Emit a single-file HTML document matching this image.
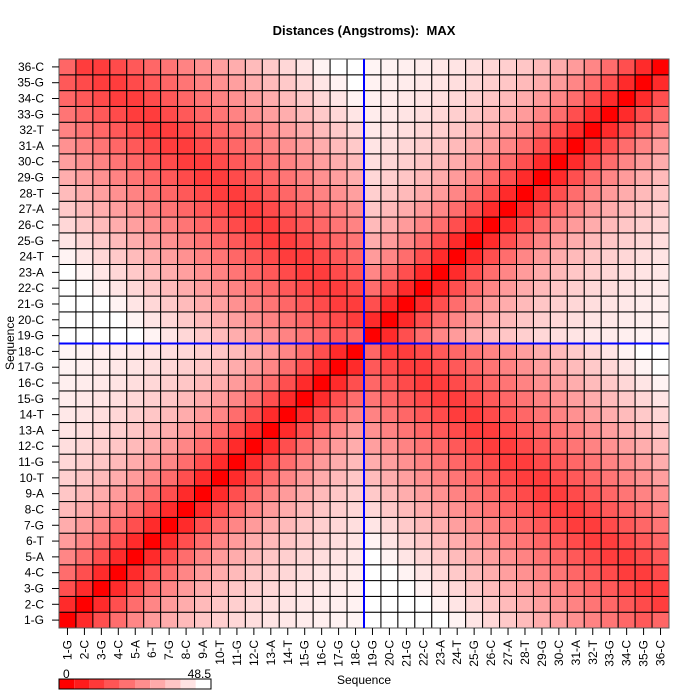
<!DOCTYPE html>
<html><head><meta charset="utf-8"><style>
html,body{margin:0;padding:0;background:#fff;}
svg{display:block;font-family:"Liberation Sans",sans-serif;}
</style></head><body>
<svg id="s" width="700" height="700" xmlns="http://www.w3.org/2000/svg">
<rect width="700" height="700" fill="#fff"/>
<text x="364" y="35" text-anchor="middle" font-size="13" font-weight="bold">Distances (Angstroms):&#160; MAX</text>
<g id="cells"></g>
<g id="lab" font-size="12"></g>
<text x="364" y="684" text-anchor="middle" font-size="12">Sequence</text>
<text transform="translate(14,343) rotate(-90)" text-anchor="middle" font-size="12">Sequence</text>
<g id="leg"></g>
<text x="63" y="678" font-size="12">0</text>
<text x="211" y="678" text-anchor="end" font-size="12">48.5</text>
</svg>
<script>
var seq="GCGCATGCATGCATGCGCGCGCATGCATGCATGCGC";
var names=[];for(var i=0;i<36;i++)names.push((i+1)+"-"+seq[i]);
var L=59,T=59,R=669,B=628,cw=(R-L)/36,ch=(B-T)/36;
function tval(i,j){
 var sa=i<=18,sb=j<=18;
 if(sa==sb){var n=Math.abs(i-j);return 1-Math.pow(0.83,n);}
 var a=sa?i:j,b=sa?j:i;var k=37-b;var o=a-k;var x=Math.abs(o-1.5);
 var t=0.21+0.055*x;
 if(o==0&&(k==1||k==18))t=0.4;
 return Math.min(1,t);
}
var h="";
for(var i=1;i<=36;i++)for(var j=1;j<=36;j++){
 var t=tval(i,j);var g=Math.round(255*t);
 var x=L+(i-1)*cw,y=B-j*ch;
 h+='<rect x="'+x.toFixed(2)+'" y="'+y.toFixed(2)+'" width="'+cw.toFixed(2)+'" height="'+ch.toFixed(2)+'" fill="rgb(255,'+g+','+g+')" stroke="#000" stroke-width="1"/>';
}
h+='<rect x="'+L+'" y="'+T+'" width="'+(R-L)+'" height="'+(B-T)+'" fill="none" stroke="#555" stroke-width="1"/>';
h+='<line x1="'+(L+18*cw)+'" y1="'+T+'" x2="'+(L+18*cw)+'" y2="'+B+'" stroke="#00f" stroke-width="2"/>';
h+='<line x1="'+L+'" y1="'+(B-18*ch)+'" x2="'+R+'" y2="'+(B-18*ch)+'" stroke="#00f" stroke-width="2"/>';
document.getElementById("cells").innerHTML=h;
var l="";
for(var k=0;k<36;k++){
 var y=B-(k+0.5)*ch;
 l+='<line x1="52" y1="'+y+'" x2="59" y2="'+y+'" stroke="#000"/>';
 l+='<text x="44" y="'+(y+4)+'" text-anchor="end">'+names[k]+'</text>';
 var x=L+(k+0.5)*cw;
 l+='<line x1="'+x+'" y1="628" x2="'+x+'" y2="635" stroke="#000"/>';
 l+='<text transform="translate('+(x+4)+',640) rotate(-90)" text-anchor="end">'+names[k]+'</text>';
}
document.getElementById("lab").innerHTML=l;
var g="",w=(211-59)/10;
for(var k=0;k<10;k++){var v=Math.round(255*k/9);
 g+='<rect x="'+(59+k*w)+'" y="679" width="'+w+'" height="10" fill="rgb(255,'+v+','+v+')"/>';}
g+='<rect x="59" y="679" width="152" height="10" fill="none" stroke="#000"/>';
document.getElementById("leg").innerHTML=g;
</script>
</body></html>
